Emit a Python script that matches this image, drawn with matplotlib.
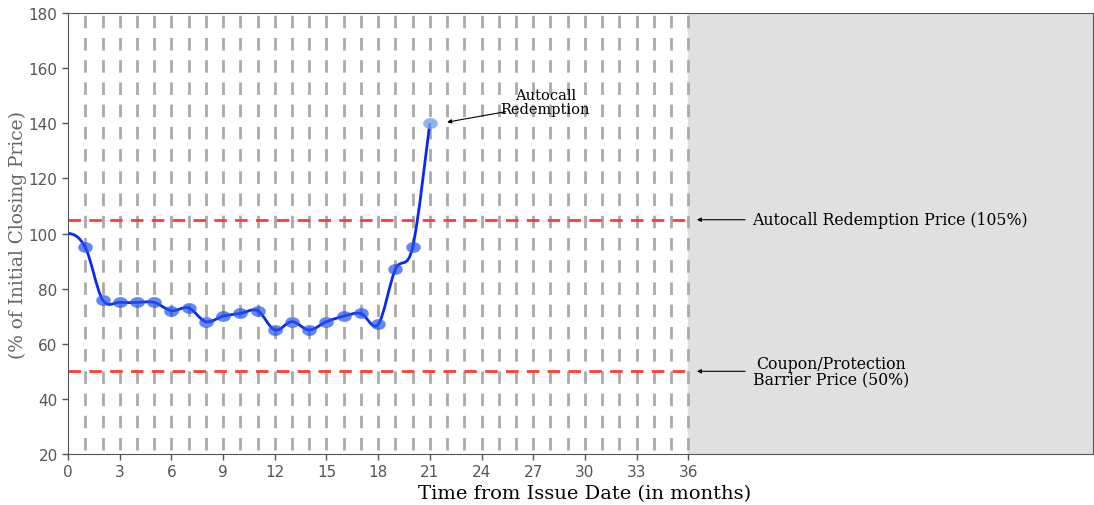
import numpy as np
import matplotlib.pyplot as plt
from matplotlib.path import Path
from matplotlib.patches import PathPatch

# 数据
months = list(range(0, 22))
price = [100, 95, 76, 75, 75, 75, 72, 73, 68, 70, 71, 72,
         65, 68, 65, 68, 70, 71, 67, 87, 95, 140]
autocall_level = 105
barrier_level = 50
term_months = 36
x_ticks = list(range(0, 37, 3))
y_ticks = list(range(20, 181, 20))

serif = 'DejaVu Serif'

fig = plt.figure(figsize=(10.94, 5.06), dpi=100)
ax = fig.add_axes([0.0622, 0.1008, 0.937, 0.8715])
ax.set_xlim(0, 59.5)
ax.set_ylim(20, 180)

# 灰色区域（期限之后）
ax.axvspan(term_months, 59.5, color='#e0e0e0', zorder=0)

# 竖向虚线（每月）
for m in range(1, term_months + 1):
    ax.plot([m, m], [21.5, 180], color='#aaaaaa', lw=2, dashes=(4.5, 3.5), zorder=1)

# 水平红色虚线
for lvl in (autocall_level, barrier_level):
    ax.plot([0, term_months], [lvl, lvl], color='#ff3b3b', lw=2, dashes=(4.5, 3), zorder=2)

# 平滑曲线（Catmull-Rom -> 贝塞尔）
pts = np.column_stack([months, price]).astype(float)
verts = [tuple(pts[0])]
codes = [Path.MOVETO]
t = 0.5
for i in range(len(pts) - 1):
    p0 = pts[i - 1] if i > 0 else pts[i]
    p1, p2 = pts[i], pts[i + 1]
    p3 = pts[i + 2] if i + 2 < len(pts) else pts[i + 1]
    c1 = p1 + (p2 - p0) * t / 3
    c2 = p2 - (p3 - p1) * t / 3
    if i == 0:
        c1 = p1 + np.array([0.3, 0])
    verts += [tuple(c1), tuple(c2), tuple(p2)]
    codes += [Path.CURVE4] * 3
ax.add_patch(PathPatch(Path(verts, codes), fill=False, edgecolor='#0a2af0', lw=2, zorder=4))

# 椭圆标记
th = np.linspace(0, 2 * np.pi, 40)
ell = np.column_stack([1.35 * np.cos(th), np.sin(th)])
ax.plot(months[1:-1], price[1:-1], ls='none', marker=ell, ms=10.5,
        color='#2255ee', alpha=0.7, mew=0, zorder=5)
ax.plot(months[-1:], price[-1:], ls='none', marker=ell, ms=10.5,
        color='#6fa3ee', alpha=0.8, mew=0, zorder=5)

# 注释
arrow = dict(arrowstyle='-|>', color='black', lw=0.8, mutation_scale=6,
             shrinkA=0, shrinkB=0)
ax.text(27.7, 147.7, 'Autocall\nRedemption', fontsize=10.5, family=serif,
        ha='center', va='center', linespacing=0.95)
ax.annotate('', xy=(22.0, 140.4), xytext=(25.4, 144.2), arrowprops=arrow)
ax.annotate('', xy=(36.5, autocall_level), xytext=(39.3, autocall_level),
            arrowprops=arrow)
ax.text(39.7, autocall_level, 'Autocall Redemption Price (105%)', fontsize=11.3,
        family=serif, ha='left', va='center')
ax.annotate('', xy=(36.5, barrier_level), xytext=(39.3, barrier_level),
            arrowprops=arrow)
ax.text(44.3, barrier_level, 'Coupon/Protection\nBarrier Price (50%)', fontsize=11.3,
        family=serif, ha='center', va='center', linespacing=0.95)

# 坐标轴
ax.set_xticks(x_ticks)
ax.set_yticks(y_ticks)
ax.tick_params(labelsize=11, colors='#555555', length=4, width=1)
for s in ax.spines.values():
    s.set_color('#555555')
ax.set_xlabel('Time from Issue Date (in months)', fontsize=14, family=serif,
              color='black')
ax.xaxis.set_label_coords(0.504, -0.068)
ax.set_ylabel('(% of Initial Closing Price)', fontsize=13.4, family=serif,
              color='#666666')
ax.yaxis.set_label_coords(-0.040, 0.5)

fig.savefig('out.png', dpi=100)
